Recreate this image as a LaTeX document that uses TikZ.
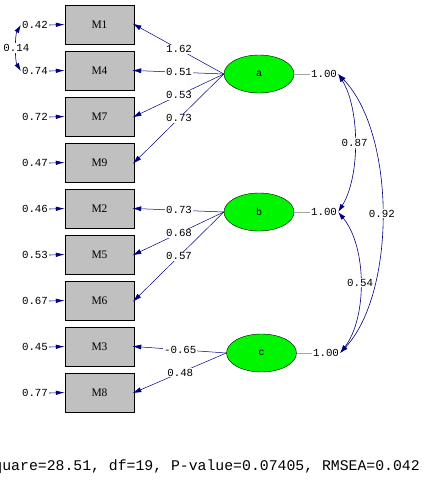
\documentclass[tikz,border=0pt]{standalone}
\usepackage{fontspec}
\setmainfont{Liberation Serif}
\newfontfamily\monof{Liberation Mono}
\usetikzlibrary{shapes.geometric,arrows.meta}
\definecolor{navy}{RGB}{0,0,128}
\definecolor{boxgray}{RGB}{192,192,192}
\definecolor{latgreen}{RGB}{0,245,0}
\begin{document}
\begin{tikzpicture}[x=1pt,y=-1pt,
  mbox/.style={draw=black, fill=boxgray, minimum width=69pt, minimum height=39pt, inner sep=0pt, font=\fontsize{11.5}{13}\selectfont},
  lat/.style={ellipse, draw=black, fill=latgreen, minimum width=70pt, minimum height=38pt, inner sep=0pt, font=\monof\fontsize{10}{12}\selectfont},
  lab/.style={font=\monof\fontsize{10.8}{12}\selectfont, inner sep=1pt},
  wlab/.style={lab, fill=white},
  load/.style={draw=navy, line width=0.5pt, -{Latex[length=9pt,width=5pt]}, shorten >=-2pt},
  errarr/.style={draw=navy, line width=0.6pt, -{Latex[length=9pt,width=4.5pt]}},
  covarr/.style={draw=navy, line width=0.6pt, {Latex[length=8pt,width=5pt]}-{Latex[length=8pt,width=5pt]}},
  varline/.style={draw=gray!70, line width=0.5pt}
]
\useasboundingbox (0,0) rectangle (435,492);
\clip (0,0) rectangle (435,492);
\fill[white] (0,0) rectangle (435,492);

% observed boxes
\foreach \n/\y in {M1/24.5, M4/70.5, M7/116.5, M9/162.5, M2/208.5, M5/254.5, M6/300.5, M3/346.5, M8/392.5}
  \node[mbox] (\n) at (99.5,\y) {\n};

% error labels and arrows
\node[lab] (eM1) at (35,25) {0.42};
\node[lab] (eM4) at (35,71) {0.74};
\node[lab] (eM7) at (35,117) {0.72};
\node[lab] (eM9) at (35,163) {0.47};
\node[lab] (eM2) at (35,209) {0.46};
\node[lab] (eM5) at (35,255) {0.53};
\node[lab] (eM6) at (35,301) {0.67};
\node[lab] (eM3) at (35,347) {0.45};
\node[lab] (eM8) at (35,393) {0.77};
\foreach \n in {M1,M4,M7,M9,M2,M5,M6,M3,M8}
  \draw[errarr] (e\n.east) -- (\n.west);

% error covariance
\draw[covarr] (eM1.west) .. controls +(-6,10) and +(-6,-10) .. (eM4.west)
  node[wlab, pos=0.5] {0.14};

% latent variables
\node[lat] (a) at (259,74) {a};
\node[lat] (b) at (259,212) {b};
\node[lat] (c) at (261.5,353) {c};

% variances
\node[lab] (va) at (324,74) {1.00};
\node[lab] (vb) at (324,212) {1.00};
\node[lab] (vc) at (326,353) {1.00};
\draw[varline] (a.east) -- (va.west);
\draw[varline] (b.east) -- (vb.west);
\draw[varline] (c.east) -- (vc.west);

% loadings
\draw[load] (a.west) -- (M1.east);
\draw[load] (a.west) -- (M4.east);
\draw[load] (a.west) -- (M7.east);
\draw[load] (a.west) -- (M9.east);
\draw[load] (b.west) -- (M2.east);
\draw[load] (b.west) -- (M5.east);
\draw[load] (b.west) -- (M6.east);
\draw[load] (c.west) -- (M3.east);
\draw[load] (c.west) -- (M8.east);

\path (a.west) -- (M1.east) node[wlab, pos=0.5] {1.62};
\path (a.west) -- (M4.east) node[wlab, pos=0.5] {0.51};
\path (a.west) -- (M7.east) node[wlab, pos=0.5] {0.53};
\path (a.west) -- (M9.east) node[wlab, pos=0.5] {0.73};
\path (b.west) -- (M2.east) node[wlab, pos=0.5] {0.73};
\path (b.west) -- (M5.east) node[wlab, pos=0.5] {0.68};
\path (b.west) -- (M6.east) node[wlab, pos=0.5] {0.57};
\path (c.west) -- (M3.east) node[wlab, pos=0.5] {-0.65};
\path (c.west) -- (M8.east) node[wlab, pos=0.5] {0.48};

% latent covariances
\draw[covarr] (va.east) .. controls +(22,35) and +(22,-35) .. (vb.east)
  node[wlab, pos=0.5] {0.87};
\draw[covarr] (va.east) .. controls +(58,60) and +(56,-60) .. (vc.east)
  node[wlab, pos=0.5] {0.92};
\draw[covarr] (vb.east) .. controls +(29,35) and +(27,-35) .. (vc.east)
  node[wlab, pos=0.5] {0.54};

% fit statistics
\node[font=\monof\fontsize{14.8}{16}\selectfont, anchor=east, inner sep=0pt] (fit) at (420,467)
  {Chi-Square=28.51, df=19, P-value=0.07405, RMSEA=0.042};
\end{tikzpicture}
\end{document}
